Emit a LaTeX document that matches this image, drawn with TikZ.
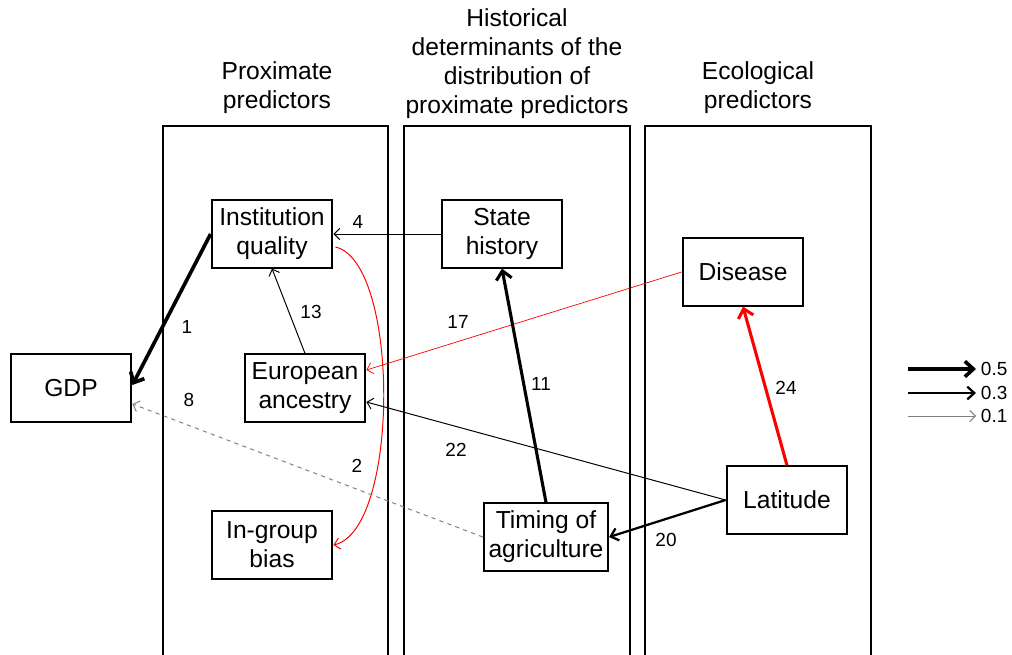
\documentclass[tikz,border=0pt]{standalone}
\usepackage{fontspec}
\setmainfont{Liberation Sans}
\usetikzlibrary{arrows.meta,calc}
\definecolor{darkred}{HTML}{FF0000}
\definecolor{dashgray}{HTML}{808080}

\begin{document}
\begin{tikzpicture}[x=0.025cm, y=-0.025cm,
    box/.style={rectangle, draw, line width=1.4pt, minimum width=3.02cm, minimum height=1.68cm,
      align=center, font=\fontsize{17.5}{20.6}\selectfont},
    head/.style={align=center, font=\fontsize{17.5}{20.6}\selectfont},
    num/.style={font=\fontsize{13.5}{16}\selectfont},
    col/.style={line width=1.4pt},
    w5/.style={line width=2.6pt, -{Straight Barb[length=6pt, width=11pt]}},
    w3/.style={line width=1.6pt, -{Straight Barb[length=5pt, width=9pt]}},
    w1/.style={line width=0.7pt, -{Straight Barb[length=4pt, width=8pt]}}]
      \useasboundingbox (0,0) rectangle (1012,654);

      % Three columns
      \draw[col] (163,126) rectangle (388,660);
      \draw[col] (404,126) rectangle (630,660);
      \draw[col] (645,126) rectangle (871,660);

      \node[head] (h1) at (277,88) {Proximate\\predictors};
      \node[head] (h2) at (517,64) {Historical\\determinants of the\\distribution of\\proximate predictors};
      \node[head] (h3) at (758,88) {Ecological\\predictors};

      % Variables in boxes
      \node[box] (gdp) at (71,388) {GDP};
      \node[box] (iq) at (272,234) {Institution\\quality};
      \node[box] (ea) at (305,388) {European\\ancestry};
      \node[box] (igb) at (272,545) {In-group\\bias};
      \node[box] (sh) at (502,234) {State\\history};
      \node[box] (ta) at (546,537) {Timing of\\agriculture};
      \node[box] (dis) at (743,272) {Disease};
      \node[box] (lat) at (787,500) {Latitude};

      % Paths
      \draw[w5] (iq.west) -- ($(gdp.east)+(0,-3)$);
      \draw[w1] (sh.west) -- (iq.east);
      \draw[w1] (ea.north) -- (iq.south);
      \draw[w1, darkred] ($(iq.east)+(2,13)$) .. controls (400,262) and (400,530) .. (igb.east);
      \draw[w1, dashgray, dashed] (ta.west) -- ($(gdp.east)+(0,16)$);
      \draw[w1, darkred, line width=0.5pt] (dis.west) -- ($(ea.east)+(0,-18)$);
      \draw[w1] (lat.west) -- ($(ea.east)+(0,14)$);
      \draw[w5, line width=2.2pt] (ta.north) -- (sh.south);
      \draw[w3] (lat.west) -- (ta.east);
      \draw[w5, darkred, line width=2.2pt] (lat.north) -- (dis.south);

      % Path labels
      \node[num] (l1) at (187,327) {1};
      \node[num] (l4) at (358,222) {4};
      \node[num] (l13) at (311,312) {13};
      \node[num] (l2) at (357,466) {2};
      \node[num] (l8) at (189,400) {8};
      \node[num] (l17) at (458,322) {17};
      \node[num] (l11) at (541,384) {11};
      \node[num] (l22) at (456,450) {22};
      \node[num] (l20) at (666,540) {20};
      \node[num] (l24) at (786,388) {24};

      % Key
      \node[num, anchor=west] (k5) at (976,369) {0.5};
      \node[num, anchor=west] (k3) at (976,393) {0.3};
      \node[num, anchor=west] (k1) at (976,416) {0.1};
      \coordinate (k5a) at (908,369);
      \coordinate (k3a) at (908,393);
      \coordinate (k1a) at (908,416);
      \draw[w5] (k5a) -- (k5.west);
      \draw[w3] (k3a) -- (k3.west);
      \draw[w1, dashgray] (k1a) -- (k1.west);
    \end{tikzpicture}
\end{document}
